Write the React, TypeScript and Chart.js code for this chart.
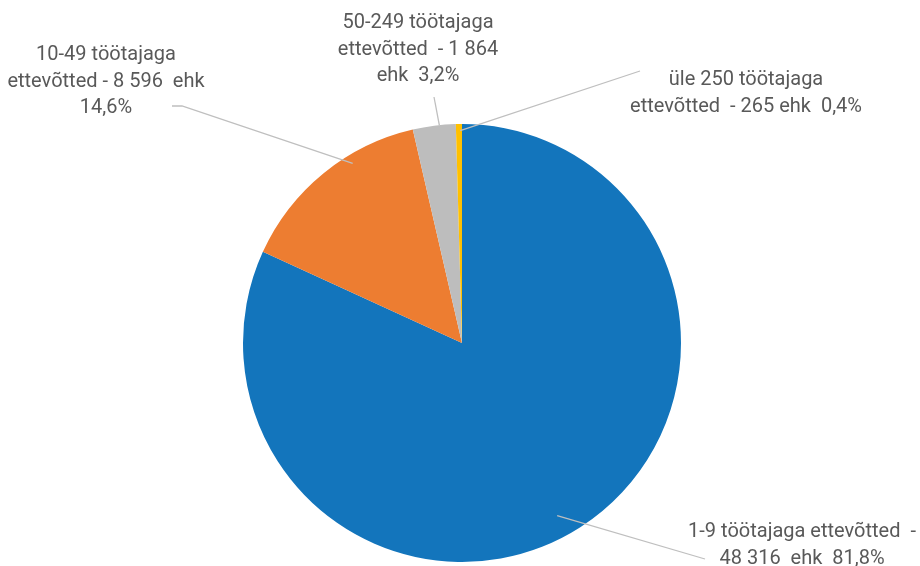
import React, { useEffect, useRef } from "react";
import { Chart, registerables } from "chart.js";

Chart.register(...registerables);

const categories = [
  "1-9 töötajaga ettevõtted",
  "10-49 töötajaga ettevõtted",
  "50-249 töötajaga ettevõtted",
  "üle 250 töötajaga ettevõtted",
];
const counts = [48316, 8596, 1864, 265];
const percentLabels = ["81,8%", "14,6%", "3,2%", "0,4%"];
const labelLines = [
  ["1-9 töötajaga ettevõtted  -", "48 316  ehk  81,8%"],
  ["10-49 töötajaga", "ettevõtted - 8 596  ehk", "14,6%"],
  ["50-249 töötajaga", "ettevõtted  - 1 864", "ehk  3,2%"],
  ["üle 250 töötajaga", "ettevõtted  - 265 ehk  0,4%"],
];
const colors = ["#1375BC", "#ED7D31", "#BDBDBD", "#FFC000"];

// label layout: text center x, first line middle y
const labelPos = [
  { x: 802, y: 532 },
  { x: 106, y: 55 },
  { x: 418, y: 23 },
  { x: 746, y: 80 },
];
// leader lines: points near the label, anchor fraction along arc and radius factor
const leaders = [
  { pts: [[705, 559]], t: 0.513, f: 0.9 },
  { pts: [[172, 106], [182, 106]], t: 0.65, f: 0.96 },
  { pts: [[434, 97]], t: 0.62, f: 1.0 },
  { pts: [[640, 71]], t: 0.7, f: 0.97 },
];

const LINE_H = 26.5;

const labelPlugin = {
  id: "pieLabels",
  afterDraw(chart: any) {
    const ctx = chart.ctx;
    const meta = chart.getDatasetMeta(0);
    ctx.save();
    meta.data.forEach((arc: any, i: number) => {
      const p = arc.getProps(["x", "y", "startAngle", "endAngle", "outerRadius"], true);
      const L = leaders[i];
      const a = p.startAngle + L.t * (p.endAngle - p.startAngle);
      const ax = p.x + Math.cos(a) * p.outerRadius * L.f;
      const ay = p.y + Math.sin(a) * p.outerRadius * L.f;
      ctx.beginPath();
      ctx.strokeStyle = "#BFBFBF";
      ctx.lineWidth = 1.3;
      ctx.moveTo(L.pts[0][0], L.pts[0][1]);
      for (let k = 1; k < L.pts.length; k++) ctx.lineTo(L.pts[k][0], L.pts[k][1]);
      ctx.lineTo(ax, ay);
      ctx.stroke();
    });
    ctx.fillStyle = "#595959";
    ctx.font = "20px Roboto";
    ctx.textAlign = "center";
    ctx.textBaseline = "middle";
    labelLines.forEach((lines, i) => {
      lines.forEach((line, k) => {
        ctx.fillText(line, labelPos[i].x, labelPos[i].y + k * LINE_H);
      });
    });
    ctx.restore();
  },
};

export default function App() {
  const ref = useRef<HTMLCanvasElement>(null);
  useEffect(() => {
    if (!ref.current) return;
    const chart = new Chart(ref.current, {
      type: "pie",
      data: {
        labels: categories,
        datasets: [
          {
            data: counts,
            backgroundColor: colors,
            borderWidth: 0,
          },
        ],
      },
      options: {
        responsive: false,
        animation: false,
        layout: { padding: { top: 124, bottom: 4, left: 243, right: 239 } },
        plugins: {
          legend: { display: false },
          tooltip: { enabled: false },
        },
      },
      plugins: [labelPlugin],
    });
    return () => chart.destroy();
  }, []);
  return (
    <div style={{ position: "absolute", left: 0, top: 0, width: 920, height: 566, background: "#fff" }}>
      <canvas ref={ref} width={920} height={566} />
    </div>
  );
}
